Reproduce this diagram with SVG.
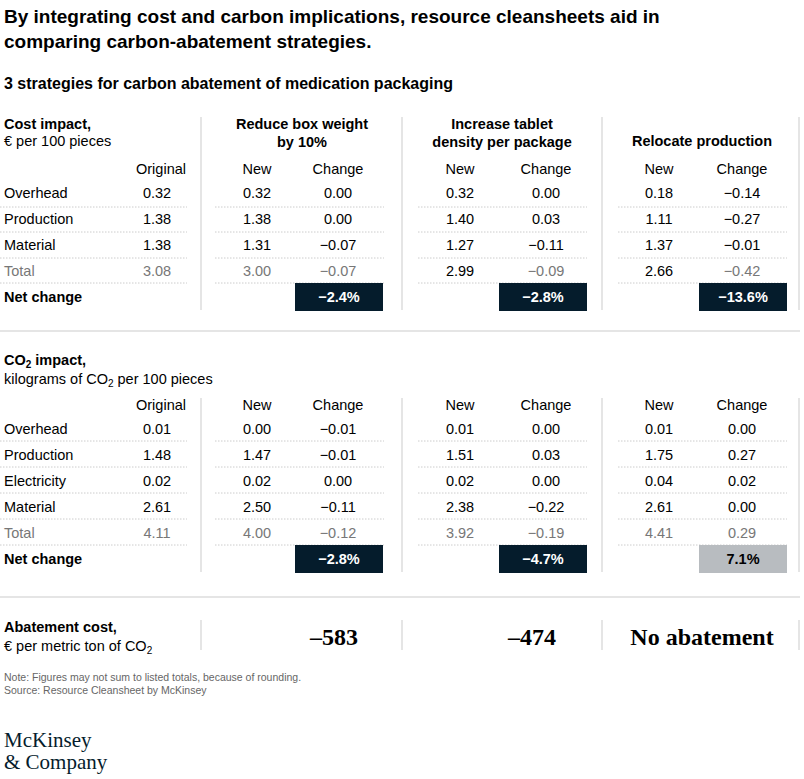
<svg xmlns="http://www.w3.org/2000/svg" width="804" height="779" viewBox="0 0 804 779">
<style>
text{font-family:"Liberation Sans",Arial,sans-serif;fill:#000;font-size:14.5px}
.t{font-size:19px;font-weight:bold}
.st{font-size:16px;font-weight:bold}
.b{font-weight:bold}
.c{text-anchor:middle}
.g{fill:#777}
.w{fill:#fff;font-weight:bold}
.sf{font-family:"Liberation Serif",serif;font-size:24px;font-weight:bold;text-anchor:middle}
.n{font-size:10.5px;fill:#666}
.d{stroke:#ccc;stroke-width:1;stroke-dasharray:1.5 1.5}
.v{stroke:#ddd;stroke-width:1.5}
.h{stroke:#ddd;stroke-width:1.5}
</style>
<rect width="804" height="779" fill="#fff"/>
<text class="t" x="4" y="23">By integrating cost and carbon implications, resource cleansheets aid in</text>
<text class="t" x="4" y="48">comparing carbon-abatement strategies.</text>
<text class="st" x="4" y="89">3 strategies for carbon abatement of medication packaging</text>

<g id="grid">
<line class="v" x1="201" y1="117" x2="201" y2="310"/><line class="v" x1="402" y1="117" x2="402" y2="310"/><line class="v" x1="602" y1="117" x2="602" y2="310"/><line class="v" x1="799" y1="117" x2="799" y2="310"/>
<line class="v" x1="201" y1="398" x2="201" y2="572"/><line class="v" x1="402" y1="398" x2="402" y2="572"/><line class="v" x1="602" y1="398" x2="602" y2="572"/><line class="v" x1="799" y1="398" x2="799" y2="572"/>
<line class="v" x1="201" y1="620" x2="201" y2="650"/><line class="v" x1="402" y1="620" x2="402" y2="650"/><line class="v" x1="602" y1="620" x2="602" y2="650"/><line class="v" x1="799" y1="620" x2="799" y2="650"/>
<line class="h" x1="0" y1="331" x2="800" y2="331"/><line class="h" x1="0" y1="597" x2="800" y2="597"/>
<g id="dots1">
<path class="d" d="M0 207H187M215 207H384M418 207H587M618 207H787M0 232H187M215 232H384M418 232H587M618 232H787M0 258H187M215 258H384M418 258H587M618 258H787M0 283H187M215 283H384M418 283H587M618 283H787"/>
</g>
<g id="dots2">
<path class="d" d="M0 441H187M215 441H384M418 441H587M618 441H787M0 467H187M215 467H384M418 467H587M618 467H787M0 493H187M215 493H384M418 493H587M618 493H787M0 519H187M215 519H384M418 519H587M618 519H787M0 545H187M215 545H384M418 545H587M618 545H787"/>
</g>
</g>

<g id="cost">
<text class="b" x="4" y="129">Cost impact,</text>
<text x="4" y="146">€ per 100 pieces</text>
<text class="st c" x="302" y="129" style="font-size:14.5px">Reduce box weight</text>
<text class="st c" x="302" y="147" style="font-size:14.5px">by 10%</text>
<text class="st c" x="502" y="129" style="font-size:14.5px">Increase tablet</text>
<text class="st c" x="502" y="147" style="font-size:14.5px">density per package</text>
<text class="st c" x="702" y="146" style="font-size:14.5px">Relocate production</text>
<text class="c" x="161" y="174">Original</text>
<text class="c" x="257" y="174">New</text><text class="c" x="338" y="174">Change</text>
<text class="c" x="460" y="174">New</text><text class="c" x="546" y="174">Change</text>
<text class="c" x="659" y="174">New</text><text class="c" x="742" y="174">Change</text>
<text x="4" y="198">Overhead</text><text x="4" y="224">Production</text><text x="4" y="250">Material</text><text class="g" x="4" y="276">Total</text>
<text class="b" x="4" y="302">Net change</text>
<g class="c">
<text class="c" x="157" y="198">0.32</text><text class="c" x="157" y="224">1.38</text><text class="c" x="157" y="250">1.38</text><text class="c g" x="157" y="276">3.08</text>
<text class="c" x="257" y="198">0.32</text><text class="c" x="257" y="224">1.38</text><text class="c" x="257" y="250">1.31</text><text class="c g" x="257" y="276">3.00</text>
<text class="c" x="338" y="198">0.00</text><text class="c" x="338" y="224">0.00</text><text class="c" x="338" y="250">−0.07</text><text class="c g" x="338" y="276">−0.07</text>
<text class="c" x="460" y="198">0.32</text><text class="c" x="460" y="224">1.40</text><text class="c" x="460" y="250">1.27</text><text class="c" x="460" y="276">2.99</text>
<text class="c" x="546" y="198">0.00</text><text class="c" x="546" y="224">0.03</text><text class="c" x="546" y="250">−0.11</text><text class="c g" x="546" y="276">−0.09</text>
<text class="c" x="659" y="198">0.18</text><text class="c" x="659" y="224">1.11</text><text class="c" x="659" y="250">1.37</text><text class="c" x="659" y="276">2.66</text>
<text class="c" x="742" y="198">−0.14</text><text class="c" x="742" y="224">−0.27</text><text class="c" x="742" y="250">−0.01</text><text class="c g" x="742" y="276">−0.42</text>
</g>
<rect x="295" y="283" width="88" height="28" fill="#051c2c"/><text class="w c" x="339" y="302">−2.4%</text>
<rect x="499" y="283" width="88" height="28" fill="#051c2c"/><text class="w c" x="543" y="302">−2.8%</text>
<rect x="699" y="283" width="88" height="28" fill="#051c2c"/><text class="w c" x="743" y="302">−13.6%</text>
</g>

<g id="co2">
<text class="b" x="4" y="365">CO<tspan font-size="10" dy="3">2</tspan><tspan dy="-3"> impact,</tspan></text>
<text x="4" y="384">kilograms of CO<tspan font-size="10" dy="3">2</tspan><tspan dy="-3"> per 100 pieces</tspan></text>
<text class="c" x="161" y="410">Original</text>
<text class="c" x="257" y="410">New</text><text class="c" x="338" y="410">Change</text>
<text class="c" x="460" y="410">New</text><text class="c" x="546" y="410">Change</text>
<text class="c" x="659" y="410">New</text><text class="c" x="742" y="410">Change</text>
<text x="4" y="434">Overhead</text><text x="4" y="460">Production</text><text x="4" y="486">Electricity</text><text x="4" y="512">Material</text><text class="g" x="4" y="538">Total</text>
<text class="b" x="4" y="564">Net change</text>
<text class="c" x="157" y="434">0.01</text><text class="c" x="157" y="460">1.48</text><text class="c" x="157" y="486">0.02</text><text class="c" x="157" y="512">2.61</text><text class="c g" x="157" y="538">4.11</text>
<text class="c" x="257" y="434">0.00</text><text class="c" x="257" y="460">1.47</text><text class="c" x="257" y="486">0.02</text><text class="c" x="257" y="512">2.50</text><text class="c g" x="257" y="538">4.00</text>
<text class="c" x="338" y="434">−0.01</text><text class="c" x="338" y="460">−0.01</text><text class="c" x="338" y="486">0.00</text><text class="c" x="338" y="512">−0.11</text><text class="c g" x="338" y="538">−0.12</text>
<text class="c" x="460" y="434">0.01</text><text class="c" x="460" y="460">1.51</text><text class="c" x="460" y="486">0.02</text><text class="c" x="460" y="512">2.38</text><text class="c g" x="460" y="538">3.92</text>
<text class="c" x="546" y="434">0.00</text><text class="c" x="546" y="460">0.03</text><text class="c" x="546" y="486">0.00</text><text class="c" x="546" y="512">−0.22</text><text class="c g" x="546" y="538">−0.19</text>
<text class="c" x="659" y="434">0.01</text><text class="c" x="659" y="460">1.75</text><text class="c" x="659" y="486">0.04</text><text class="c" x="659" y="512">2.61</text><text class="c g" x="659" y="538">4.41</text>
<text class="c" x="742" y="434">0.00</text><text class="c" x="742" y="460">0.27</text><text class="c" x="742" y="486">0.02</text><text class="c" x="742" y="512">0.00</text><text class="c g" x="742" y="538">0.29</text>
<rect x="295" y="545" width="88" height="28" fill="#051c2c"/><text class="w c" x="339" y="564">−2.8%</text>
<rect x="499" y="545" width="88" height="28" fill="#051c2c"/><text class="w c" x="543" y="564">−4.7%</text>
<rect x="699" y="545" width="88" height="28" fill="#b8bcc0"/><text class="b c" x="743" y="564">7.1%</text>
</g>

<g id="abatement">
<text class="b" x="4" y="632">Abatement cost,</text>
<text x="4" y="651">€ per metric ton of CO<tspan font-size="10" dy="3">2</tspan></text>
<text class="sf" x="334" y="645">–583</text>
<text class="sf" x="532" y="645">–474</text>
<text class="sf" x="702" y="645">No abatement</text>
</g>
<text class="n" x="4" y="681">Note: Figures may not sum to listed totals, because of rounding.</text>
<text class="n" x="4" y="694">Source: Resource Cleansheet by McKinsey</text>
<text x="4" y="747" style="font-family:'Liberation Serif',serif;font-size:21px;fill:#051c2c">McKinsey</text>
<text x="4" y="769" style="font-family:'Liberation Serif',serif;font-size:21px;fill:#051c2c">&amp; Company</text>
</svg>
